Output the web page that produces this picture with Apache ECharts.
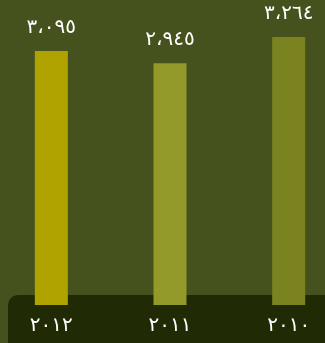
<!DOCTYPE html>
<html><head><meta charset="utf-8">
<script src="https://cdn.jsdelivr.net/npm/echarts@6/dist/echarts.min.js"></script>
<style>html,body{margin:0;padding:0;background:#45521e;overflow:hidden;width:325px;height:343px;}#c{width:356px;height:343px;margin-left:-8px;}</style>
</head><body><div id="c"></div>
<script>
const categories = ['٢٠١٢', '٢٠١١', '٢٠١٠'];
const values = [3.095, 2.945, 3.264];
const barColors = ['#b0a300', '#939a29', '#7b8220'];

function toArabic(v) {
  return v.toFixed(3).replace(/[0-9]/g, d => '٠١٢٣٤٥٦٧٨٩'[+d]).replace('.', '،');
}

const chart = echarts.init(document.getElementById('c'));
chart.setOption({
  backgroundColor: '#45521e',
  animation: false,
  graphic: [{
    type: 'rect', z: 0, silent: true,
    shape: { x: 16, y: 295, width: 360, height: 70, r: 10 },
    style: { fill: '#202a04' }
  }],
  grid: { left: 0, right: 0, top: 37, bottom: 38 },
  xAxis: {
    type: 'category', data: categories,
    axisLine: { show: false }, axisTick: { show: false },
    axisLabel: { color: '#ffffff', fontSize: 20, fontFamily: 'DejaVu Sans', margin: 11 }
  },
  yAxis: { type: 'value', min: 0, max: 3.264, show: false, splitLine: { show: false } },
  series: [{
    type: 'bar', z: 5,
    barWidth: 33,
    data: values.map((v, i) => ({ value: v, itemStyle: { color: barColors[i] } })),
    label: {
      show: true, position: 'top', distance: 13,
      color: '#ffffff', fontSize: 20, fontFamily: 'DejaVu Sans',
      formatter: p => toArabic(p.value)
    }
  }]
});
</script></body></html>
